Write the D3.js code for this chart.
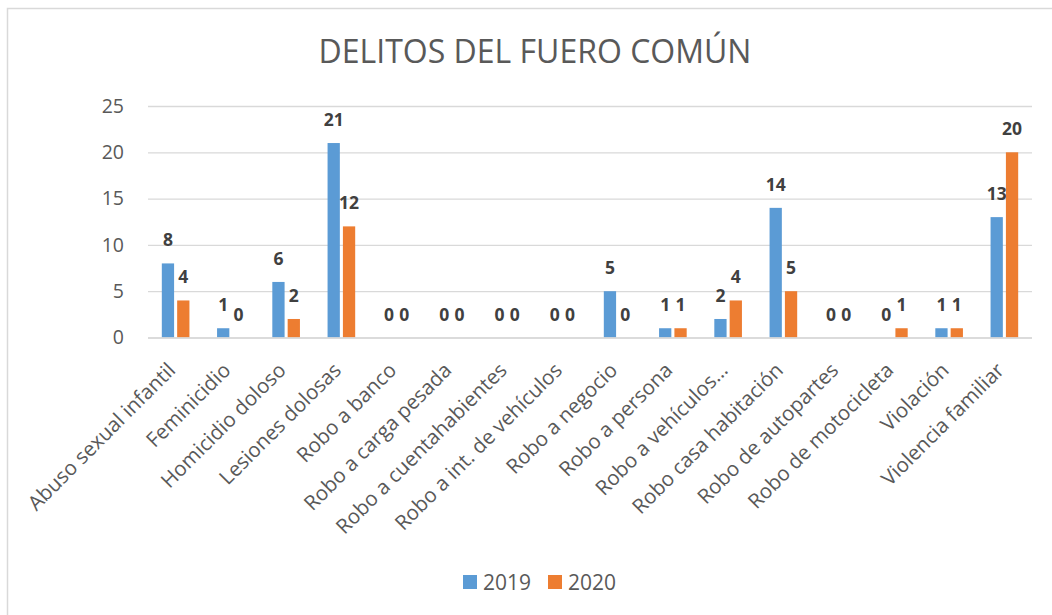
<!DOCTYPE html>
<html>
<head>
<meta charset="utf-8">
<script src="https://cdn.jsdelivr.net/npm/d3@7"></script>
<style>
  html, body { margin: 0; padding: 0; background: #fff; }
  svg { display: block; font-family: "Open Sans", "Noto Sans", sans-serif; }
</style>
</head>
<body>
<svg id="chart" width="1052" height="615"></svg>
<script>
// Delitos del fuero común, 2019 vs 2020
const categories = [
  "Abuso sexual infantil", "Feminicidio", "Homicidio doloso", "Lesiones dolosas",
  "Robo a banco", "Robo a carga pesada", "Robo a cuentahabientes",
  "Robo a int. de vehículos", "Robo a negocio", "Robo a persona",
  "Robo a vehículos…", "Robo casa habitación", "Robo de autopartes",
  "Robo de motocicleta", "Violación", "Violencia familiar"
];
const seriesNames = ["2019", "2020"];
const values2019 = [8, 1, 6, 21, 0, 0, 0, 0, 5, 1, 2, 14, 0, 0, 1, 13];
const values2020 = [4, 0, 2, 12, 0, 0, 0, 0, 0, 1, 4, 5, 0, 1, 1, 20];
const yTicks = [0, 5, 10, 15, 20, 25];
const colors = ["#5B9BD5", "#ED7D31"];

const svg = d3.select("#chart");

// outer chart frame
svg.append("rect")
  .attr("x", 7.5).attr("y", 8.5)
  .attr("width", 1052).attr("height", 620)
  .attr("fill", "#fff").attr("stroke", "#d9d9d9").attr("stroke-width", 1.5);

svg.append("text")
  .attr("x", 535).attr("y", 63)
  .attr("text-anchor", "middle")
  .attr("font-size", 32)
  .attr("fill", "#595959")
  .text("DELITOS DEL FUERO COMÚN");

const plot = { left: 148, right: 1032, top: 106, bottom: 337.5 };

const x0 = d3.scaleBand()
  .domain(categories)
  .range([plot.left, plot.right])
  .paddingInner(0.5)
  .paddingOuter(0.25);

const x1 = d3.scaleBand()
  .domain(seriesNames)
  .range([0, x0.bandwidth()])
  .paddingInner(0.2);

const y = d3.scaleLinear().domain([0, 25]).range([plot.bottom, plot.top]);

// gridlines and value axis
const yAxis = svg.append("g")
  .attr("transform", `translate(${plot.left},0)`)
  .call(d3.axisLeft(y).tickValues(yTicks).tickSize(-(plot.right - plot.left)).tickPadding(24));
yAxis.select(".domain").remove();
yAxis.selectAll(".tick line").attr("stroke", "#d9d9d9").attr("stroke-width", 1.3);
yAxis.selectAll(".tick text")
  .attr("fill", "#595959")
  .attr("font-size", 19.5)
  .attr("font-family", "\"Open Sans\", sans-serif");

// bars
const series = [values2019, values2020];
const groups = svg.append("g").selectAll("g")
  .data(series)
  .join("g")
  .attr("fill", (d, i) => colors[i]);

groups.selectAll("rect")
  .data((vals, si) => vals.map((v, ci) => ({ v, ci, si })))
  .join("rect")
  .attr("x", d => x0(categories[d.ci]) + x1(seriesNames[d.si]))
  .attr("y", d => y(d.v))
  .attr("width", x1.bandwidth())
  .attr("height", d => y(0) - y(d.v));

// category axis line
svg.append("line")
  .attr("x1", plot.left).attr("x2", plot.right)
  .attr("y1", y(0) + 0.5).attr("y2", y(0) + 0.5)
  .attr("stroke", "#d9d9d9").attr("stroke-width", 1.5);

// data labels
groups.each(function(vals, si) {
  d3.select(this).selectAll("text")
    .data(vals.map((v, ci) => ({ v, ci, si })))
    .join("text")
    .attr("x", d => x0(categories[d.ci]) + x1(seriesNames[d.si]) + x1.bandwidth() / 2)
    .attr("y", d => y(d.v) - 17)
    .attr("text-anchor", "middle")
    .attr("font-size", 17.5)
    .attr("font-weight", "bold")
    .attr("fill", "#404040")
    .text(d => d.v);
});

// rotated category labels
const xAxis = svg.append("g")
  .attr("transform", `translate(0,${y(0)})`)
  .call(d3.axisBottom(x0).tickSize(0).tickPadding(0));
xAxis.select(".domain").remove();
xAxis.selectAll(".tick text")
  .attr("fill", "#595959")
  .attr("font-size", 20.5)
  .attr("font-family", "\"Open Sans\", sans-serif")
  .attr("text-anchor", "end")
  .attr("dy", 0)
  .attr("transform", "translate(1,34) rotate(-45)");

// legend
const legend = svg.append("g").attr("transform", "translate(463,575)");
const item = legend.selectAll("g")
  .data(seriesNames)
  .join("g")
  .attr("transform", (d, i) => `translate(${i * 85},0)`);
item.append("rect")
  .attr("width", 14).attr("height", 14)
  .attr("fill", (d, i) => colors[i]);
item.append("text")
  .attr("x", 20).attr("y", 14.5)
  .attr("font-size", 21)
  .attr("fill", "#595959")
  .text(d => d);
</script>
</body>
</html>
